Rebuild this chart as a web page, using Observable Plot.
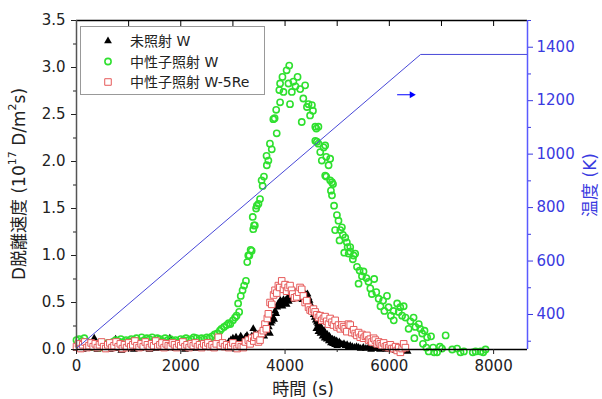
<!DOCTYPE html>
<html><head><meta charset="utf-8">
<script src="https://cdn.jsdelivr.net/npm/d3@7"></script>
<script src="https://cdn.jsdelivr.net/npm/@observablehq/plot@0.6"></script>
<style>body{margin:0;background:#fff}</style>
</head><body><div id="chart"></div>
<script>
// ---- series names ----
const seriesNames = ["未照射 W", "中性子照射 W", "中性子照射 W-5Re"];

// ---- 未照射 W : [time (s), rate (1e17 D/m2s)] ----
const unirradiatedW = [
[0,0.01],[60,0.02],[120,0.00],[180,0.03],[240,0.01],[300,0.02],[340,0.12],[400,0.00],[460,0.02],[520,0.01],
[580,0.03],[640,0.00],[700,0.02],[750,0.11],[800,0.01],[860,-0.01],[920,0.02],[980,0.01],[1040,0.03],[1100,0.00],
[1160,0.02],[1220,0.01],[1280,0.03],[1340,0.02],[1400,0.00],[1460,0.02],[1520,0.01],[1580,0.03],[1640,0.02],[1700,0.01],
[1790,0.12],[1840,0.02],[1900,0.01],[1960,0.03],[2020,0.02],[2080,0.00],[2140,0.02],[2200,0.03],[2260,0.01],[2320,0.02],
[2380,0.04],[2440,0.02],[2500,0.03],[2560,0.02],[2620,0.04],[2680,0.03],[2740,0.05],[2800,0.04],[2860,0.06],[2920,0.08],
[2960,0.10],[3000,0.12],[3030,0.09],[3060,0.13],[3090,0.08],[3120,0.11],[3150,0.14],[3180,0.10],[3210,0.07],[3240,0.13],
[3270,0.15],[3300,0.11],[3330,0.09],[3360,0.14],[3390,0.22],[3420,0.17],[3450,0.13],[3480,0.16],[3510,0.12],[3540,0.15],
[3570,0.19],[3600,0.14],[3630,0.21],[3660,0.18],[3690,0.24],[3710,0.17],[3730,0.28],[3750,0.30],[3770,0.34],[3790,0.32],
[3810,0.41],[3830,0.38],[3850,0.45],[3870,0.49],[3890,0.47],[3910,0.52],[3930,0.50],[3950,0.46],[3970,0.53],[3990,0.49],
[4010,0.52],[4030,0.48],[4050,0.55],[4070,0.51],[4090,0.54],[4110,0.57],[4130,0.53],[4150,0.59],[4170,0.56],[4190,0.61],
[4210,0.57],[4230,0.54],[4250,0.58],[4270,0.55],[4290,0.59],[4310,0.56],[4330,0.53],[4350,0.57],[4370,0.60],[4390,0.56],
[4410,0.58],[4430,0.59],[4450,0.55],[4470,0.52],[4490,0.48],[4510,0.45],[4530,0.41],[4550,0.37],[4570,0.34],[4590,0.31],
[4600,0.22],[4610,0.29],[4630,0.27],[4640,0.19],[4650,0.25],[4670,0.23],[4680,0.17],[4690,0.24],[4710,0.21],[4720,0.14],
[4730,0.19],[4750,0.20],[4760,0.12],[4770,0.17],[4790,0.15],[4800,0.11],[4810,0.16],[4830,0.13],[4840,0.09],[4850,0.14],
[4870,0.12],[4880,0.07],[4890,0.10],[4910,0.11],[4920,0.06],[4930,0.09],[4950,0.10],[4960,0.05],[4970,0.08],[4990,0.09],
[5000,0.04],[5010,0.07],[5040,0.08],[5070,0.06],[5100,0.05],[5130,0.06],[5160,0.04],[5190,0.05],[5220,0.03],[5250,0.04],
[5290,0.03],[5330,0.02],[5370,0.03],[5410,0.02],[5450,0.01],[5500,0.02],[5550,0.01],[5600,0.02],[5650,0.00],[5700,0.01],
[5760,0.01],[5820,0.00],[5880,0.01],[5940,0.00],[6000,0.01],[6060,0.00],[6120,-0.01],[6180,0.00],[6240,0.01],[6300,-0.01],[6350,-0.02]
];

// ---- 中性子照射 W ----
const neutronW = [
[0,0.10],[50,0.11],[100,0.09],[150,0.12],[200,0.08],[250,0.05],[300,0.03],[350,0.06],[400,0.04],[450,0.02],
[500,0.05],[550,0.04],[600,0.07],[650,0.05],[700,0.08],[750,0.10],[800,0.09],[850,0.11],[900,0.08],[950,0.10],
[1000,0.09],[1050,0.11],[1100,0.10],[1150,0.12],[1200,0.09],[1250,0.13],[1300,0.10],[1350,0.12],[1400,0.11],[1450,0.13],
[1500,0.10],[1550,0.12],[1600,0.11],[1650,0.09],[1700,0.12],[1750,0.10],[1800,0.11],[1850,0.09],[1900,0.10],[1950,0.08],
[2000,0.11],[2050,0.10],[2100,0.12],[2150,0.10],[2200,0.11],[2250,0.13],[2300,0.12],[2350,0.10],[2400,0.12],[2450,0.11],
[2500,0.13],[2550,0.12],[2600,0.14],[2650,0.16],[2700,0.17],[2750,0.20],[2780,0.22],[2830,0.24],[2880,0.26],[2920,0.28],
[2950,0.27],[3000,0.31],[3040,0.34],[3070,0.36],[3100,0.49],[3120,0.40],[3150,0.57],[3185,0.63],[3215,0.68],[3250,0.73],
[3275,0.93],[3295,1.00],[3315,1.00],[3340,1.06],[3360,1.05],[3380,1.41],[3390,1.28],[3405,1.32],[3420,1.32],[3445,1.50],
[3460,1.53],[3490,1.55],[3520,1.60],[3550,1.80],[3570,1.74],[3595,1.84],[3645,2.06],[3650,1.96],[3680,2.01],[3710,2.19],
[3745,2.13],[3775,2.45],[3800,2.46],[3830,2.55],[3840,2.30],[3890,2.76],[3905,2.83],[3905,2.63],[3950,2.90],[3970,2.74],
[4030,2.97],[4065,2.83],[4080,3.02],[4095,2.61],[4130,2.74],[4160,2.85],[4200,2.80],[4240,2.90],[4290,2.77],[4320,2.42],
[4350,2.67],[4385,2.81],[4420,2.58],[4450,2.61],[4480,2.49],[4515,2.60],[4535,2.54],[4580,2.37],[4600,2.35],[4580,2.22],
[4610,2.21],[4640,2.19],[4640,2.37],[4675,2.10],[4705,2.01],[4740,2.15],[4770,2.17],[4770,1.85],[4790,2.05],[4790,1.84],
[4835,1.96],[4865,1.80],[4865,2.03],[4880,1.69],[4900,1.64],[4900,1.78],[4920,1.76],[4940,1.53],[4960,1.27],[4995,1.43],
[5025,1.37],[5045,1.16],[5060,1.27],[5090,1.30],[5110,1.22],[5135,1.03],[5155,1.19],[5185,1.14],[5200,1.09],[5220,1.02],
[5250,1.09],[5250,1.04],[5300,0.96],[5315,1.00],[5345,1.02],[5380,0.88],[5410,0.70],[5430,0.84],[5475,0.78],[5505,0.83],
[5560,0.76],[5600,0.72],[5635,0.65],[5665,0.59],[5710,0.75],[5750,0.61],[5795,0.54],[5830,0.46],[5880,0.52],[5905,0.41],
[5955,0.57],[5985,0.45],[6030,0.36],[6080,0.41],[6085,0.31],[6150,0.49],[6180,0.40],[6210,0.45],[6245,0.36],[6275,0.46],
[6310,0.34],[6370,0.22],[6405,0.30],[6465,0.34],[6480,0.12],[6500,0.24],[6565,0.27],[6595,0.22],[6630,0.17],[6645,0.06],
[6675,0.20],[6710,0.02],[6725,0.13],[6755,-0.02],[6800,0.14],[6840,0.02],[6860,-0.03],[6915,-0.03],[6970,0.03],[7010,0.01],
[7080,0.15],[7205,0.00],[7300,0.01],[7365,-0.03],[7430,-0.02],[7600,-0.03],[7655,-0.02],[7750,-0.02],[7800,-0.03],[7845,0.00]
];

// ---- 中性子照射 W-5Re ----
const neutronW5Re = [
[0,0.03],[40,0.06],[80,0.01],[120,0.05],[160,0.08],[200,0.02],[240,0.04],[280,0.07],[320,0.03],[360,0.06],
[400,0.02],[440,0.05],[480,0.08],[520,0.03],[560,0.01],[600,0.05],[640,0.07],[680,0.02],[720,0.04],[760,0.08],
[800,0.03],[840,0.06],[880,0.01],[920,0.05],[960,0.02],[1000,0.07],[1040,0.03],[1080,0.05],[1120,0.09],[1160,0.04],
[1200,0.02],[1240,0.06],[1280,0.03],[1320,0.08],[1360,0.05],[1400,0.02],[1440,0.06],[1480,0.04],[1520,0.09],[1560,0.03],
[1600,0.05],[1640,0.07],[1680,0.02],[1720,0.06],[1760,0.04],[1800,0.03],[1840,0.07],[1880,0.05],[1920,0.02],[1960,0.06],
[2000,0.04],[2040,0.08],[2080,0.03],[2120,0.05],[2160,0.02],[2200,0.06],[2240,0.04],[2280,0.07],[2320,0.03],[2360,0.05],
[2400,0.02],[2440,0.06],[2480,0.04],[2520,0.07],[2560,0.03],[2600,0.05],[2640,0.02],[2680,0.06],[2720,0.13],[2760,0.04],
[2800,0.07],[2840,0.03],[2880,0.05],[2920,0.02],[2960,0.04],[3000,0.07],[3040,0.03],[3080,0.01],[3120,0.05],[3160,0.03],
[3200,0.02],[3240,0.08],[3295,0.10],[3330,0.06],[3360,0.12],[3400,0.09],[3423,0.13],[3460,0.15],[3490,0.08],[3520,0.10],
[3550,0.17],[3583,0.20],[3615,0.27],[3640,0.22],[3660,0.33],[3680,0.38],[3712,0.50],[3745,0.48],[3780,0.58],[3808,0.63],
[3840,0.60],[3872,0.68],[3900,0.66],[3936,0.73],[3970,0.64],[4000,0.69],[4030,0.62],[4060,0.66],[4096,0.68],[4125,0.63],
[4147,0.59],[4180,0.55],[4224,0.56],[4260,0.61],[4288,0.66],[4320,0.64],[4352,0.57],[4385,0.50],[4417,0.52],[4450,0.45],
[4481,0.42],[4513,0.41],[4545,0.43],[4577,0.40],[4610,0.37],[4641,0.34],[4673,0.36],[4705,0.31],[4737,0.33],[4769,0.35],
[4800,0.30],[4833,0.27],[4865,0.33],[4900,0.29],[4929,0.26],[4961,0.31],[4995,0.24],[5025,0.26],[5060,0.22],[5090,0.26],
[5122,0.24],[5153,0.22],[5185,0.19],[5218,0.27],[5250,0.26],[5282,0.18],[5315,0.21],[5346,0.17],[5378,0.15],[5410,0.18],
[5442,0.13],[5474,0.16],[5506,0.12],[5540,0.14],[5570,0.15],[5603,0.10],[5635,0.11],[5667,0.08],[5700,0.12],[5731,0.10],
[5765,0.06],[5795,0.08],[5827,0.06],[5860,0.04],[5890,0.07],[5923,0.03],[5955,0.04],[5990,0.02],[6020,0.05],[6050,0.01],
[6083,0.01],[6120,0.03],[6150,-0.01],[6180,0.02],[6212,-0.03],[6245,0.01],[6275,0.06],[6308,0.02]
];

// ---- temperature ramp: [time (s), K] ----
const temperature = [[0,273],[6600,1373],[8650,1373]];

// ---- arrow annotation (points to right axis), data units ----
const arrowNote = [{t1: 6150, t2: 6430, v: 2.71}];

// ---- ticks ----
const xMajor = [0, 2000, 4000, 6000, 8000];
const xMinor = [1000, 3000, 5000, 7000];
const xTop = [1000, 2000, 3000, 4000, 5000, 6000, 7000, 8000];
const yMajor = [0, 0.5, 1.0, 1.5, 2.0, 2.5, 3.0, 3.5];
const yMinor = [0.25, 0.75, 1.25, 1.75, 2.25, 2.75, 3.25];
const tMajor = [400, 600, 800, 1000, 1200, 1400];
const tMinor = [300, 500, 700, 900, 1100, 1300, 1500];

const xDomain = [0, 8650];
const yDomain = [0, 3.5];
const tDomain = [269, 1500];
const toV = T => (T - tDomain[0]) / (tDomain[1] - tDomain[0]) * (yDomain[1] - yDomain[0]) + yDomain[0];
const fromV = v => (v - yDomain[0]) / (yDomain[1] - yDomain[0]) * (tDomain[1] - tDomain[0]) + tDomain[0];

const BLUE = "#3a3ae0";
const GREEN = "#2fe02f";
const RED = "#e65a5a";
const FONT = "'DejaVu Sans', 'Noto Sans CJK JP', sans-serif";

const chart = Plot.plot({
  width: 602, height: 399,
  marginLeft: 76, marginRight: 75, marginTop: 20, marginBottom: 50,
  style: {fontFamily: FONT, fontSize: "15px", background: "white", color: "#222"},
  x: {domain: xDomain, label: null},
  y: {domain: yDomain, label: null},
  marks: [
    Plot.dot(unirradiatedW, {x: d => d[0], y: d => d[1], symbol: "triangle", fill: "black", r: 2.9}),
    Plot.dot(neutronW, {x: d => d[0], y: d => d[1], symbol: "circle", stroke: GREEN, fill: "none", r: 3.1, strokeWidth: 1.6}),
    Plot.dot(neutronW5Re, {x: d => d[0], y: d => d[1], symbol: "square", stroke: RED, fill: "white", r: 3.7, strokeWidth: 1}),
    Plot.line(temperature, {x: d => d[0], y: d => toV(d[1]), stroke: "#4848d8", strokeWidth: 1}),
    Plot.link(arrowNote, {x1: "t1", x2: "t2", y1: "v", y2: "v", stroke: "blue", strokeWidth: 1}),
    Plot.dot(arrowNote, {x: "t2", y: "v", symbol: "triangle", rotate: 90, fill: "blue", r: 2.6}),
    // frame lines
    Plot.ruleY([yDomain[1]], {stroke: "black", strokeWidth: 1.5}),
    Plot.ruleY([yDomain[0]], {stroke: "black", strokeWidth: 1.5}),
    Plot.ruleX([xDomain[0]], {stroke: "#555", strokeWidth: 1.5}),
    Plot.ruleX([xDomain[1]], {stroke: "#5a5aff", strokeWidth: 1.5}),
    // axes
    Plot.axisX(xMajor, {anchor: "bottom", tickSize: 5, tickPadding: 6, fontSize: 15, color: "#222", tickFormat: d => String(d), label: null}),
    Plot.axisX(xMinor, {anchor: "bottom", tickSize: 3, tickFormat: () => "", label: null}),
    Plot.axisX(xTop, {anchor: "top", tickSize: 5, dy: 5, color: "black", tickFormat: () => "", label: null}),
    Plot.axisY(yMajor, {anchor: "left", tickSize: 5, tickPadding: 6, fontSize: 15, color: "#222", tickFormat: d => d.toFixed(1), label: null}),
    Plot.axisY(yMinor, {anchor: "left", tickSize: 3, tickFormat: () => "", label: null}),
    Plot.axisY(tMajor.map(toV), {anchor: "right", tickSize: 5, tickPadding: 4, fontSize: 15, color: BLUE, tickFormat: d => String(Math.round(fromV(d))), label: null}),
    Plot.axisY(tMinor.map(toV), {anchor: "right", tickSize: 3, color: BLUE, tickFormat: () => "", label: null})
  ]
});

const svg = d3.select(chart);

// axis titles
svg.append("text")
  .attr("x", 303).attr("y", 389)
  .attr("text-anchor", "middle").attr("dominant-baseline", "central")
  .attr("font-size", 17).attr("fill", "#222").attr("font-family", FONT)
  .text("時間 (s)");

const yt = svg.append("text")
  .attr("transform", "translate(19,184) rotate(-90)")
  .attr("text-anchor", "middle").attr("dominant-baseline", "central")
  .attr("font-size", 17).attr("fill", "#222").attr("font-family", FONT);
yt.append("tspan").text("D脱離速度 (10");
yt.append("tspan").attr("font-size", 11).attr("dy", -7).text("17");
yt.append("tspan").attr("dy", 7).text(" D/m");
yt.append("tspan").attr("font-size", 11).attr("dy", -7).text("2");
yt.append("tspan").attr("dy", 7).text("s)");

svg.append("text")
  .attr("transform", "translate(590,185) rotate(-90)")
  .attr("text-anchor", "middle").attr("dominant-baseline", "central")
  .attr("font-size", 17).attr("fill", BLUE).attr("font-family", FONT)
  .text("温度 (K)");

// legend
const lg = svg.append("g");
lg.append("rect").attr("x", 80.5).attr("y", 26.5).attr("width", 184).attr("height", 68)
  .attr("fill", "white").attr("stroke", "#999").attr("stroke-width", 1);
const legendItems = [
  {name: seriesNames[0], sym: d3.symbolTriangle, r: 2.9, fill: "black", stroke: "none", sw: 0},
  {name: seriesNames[1], sym: d3.symbolCircle, r: 3.1, fill: "none", stroke: GREEN, sw: 1.6},
  {name: seriesNames[2], sym: d3.symbolSquare, r: 3.7, fill: "white", stroke: RED, sw: 1}
];
legendItems.forEach((it, i) => {
  const y = 41 + i * 20.5;
  lg.append("path")
    .attr("d", d3.symbol(it.sym, Math.PI * it.r * it.r)())
    .attr("transform", `translate(108,${y})`)
    .attr("fill", it.fill).attr("stroke", it.stroke).attr("stroke-width", it.sw);
  lg.append("text").attr("x", 130).attr("y", y)
    .attr("text-anchor", "start")
    .attr("dominant-baseline", "central").attr("font-size", 14)
    .attr("fill", "#222").attr("font-family", FONT).text(it.name);
});

document.getElementById("chart").appendChild(chart);
</script>
</body></html>
